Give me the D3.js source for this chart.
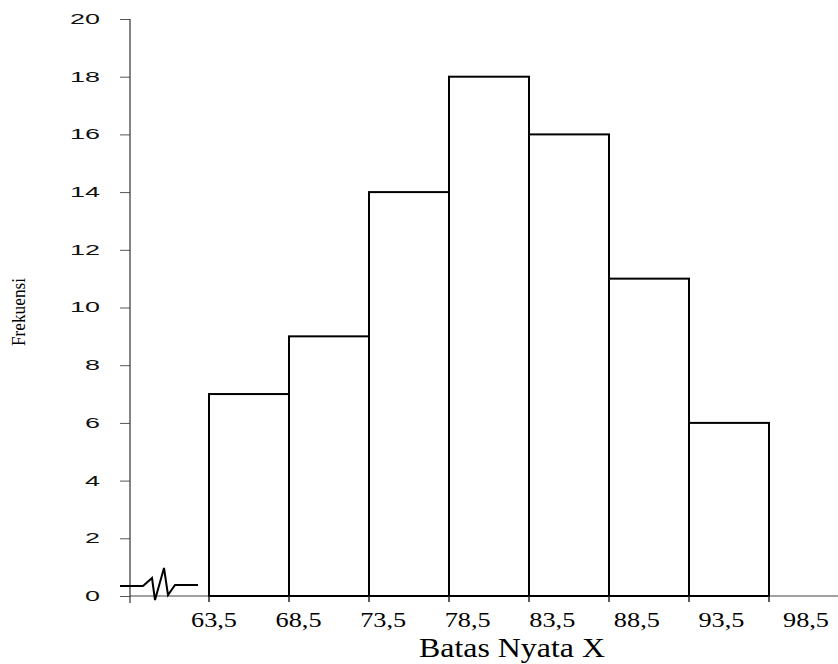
<!DOCTYPE html>
<html>
<head>
<meta charset="utf-8">
<script src="https://cdn.jsdelivr.net/npm/d3@7"></script>
<style>
  body { margin: 0; background: #fff; }
  svg { display: block; }
</style>
</head>
<body>
<svg id="chart" width="838" height="664"></svg>
<script>
// class boundaries and frequencies
const lowerBounds = [63.5, 68.5, 73.5, 78.5, 83.5, 88.5, 93.5];
const upperBounds = [68.5, 73.5, 78.5, 83.5, 88.5, 93.5, 98.5];
const frequencies = [7, 9, 14, 18, 16, 11, 6];
const xTickValues = [63.5, 68.5, 73.5, 78.5, 83.5, 88.5, 93.5, 98.5];
const xTickLabels = ["63,5", "68,5", "73,5", "78,5", "83,5", "88,5", "93,5", "98,5"];
const yTickValues = [0, 2, 4, 6, 8, 10, 12, 14, 16, 18, 20];

const svg = d3.select("#chart");
const axisX = 130;

let x = d3.scaleLinear().domain([63.5, 98.5]).range([209, 769]);
// labels in the original drift right of their ticks
let xLabel = d3.scaleLinear().domain([63.5, 98.5]).range([214, 806]);
let y = d3.scaleLinear().domain([0, 20]).range([596, 19]);

// baseline
svg.append("line")
    .attr("x1", axisX).attr("x2", 838)
    .attr("y1", y(0)).attr("y2", y(0))
    .attr("stroke", "#444").attr("stroke-width", 1.2);

// y axis
let yAxis = d3.axisLeft(y).tickValues(yTickValues).tickSize(10).tickPadding(20)
    .tickFormat(d3.format("d"));
let gy = svg.append("g").attr("transform", "translate(" + axisX + ",0)").call(yAxis);
gy.select(".domain").remove();
gy.selectAll(".tick line").attr("stroke", "#555");
gy.selectAll(".tick text")
    .attr("font-family", "Liberation Sans, Arial, sans-serif")
    .attr("font-size", 14)
    .attr("fill", "#111")
    .attr("textLength", (d) => d >= 10 ? 30 : 15)
    .attr("lengthAdjust", "spacingAndGlyphs");
svg.append("line")
    .attr("x1", axisX).attr("x2", axisX)
    .attr("y1", y(20)).attr("y2", y(0) + 7)
    .attr("stroke", "#333").attr("stroke-width", 1.2);

// bars
svg.selectAll("rect.bar")
    .data(frequencies)
    .enter()
    .append("rect")
    .attr("class", "bar")
    .attr("x", (d, i) => x(lowerBounds[i]))
    .attr("y", (d) => y(d))
    .attr("width", (d, i) => x(upperBounds[i]) - x(lowerBounds[i]))
    .attr("height", (d) => y(0) - y(d))
    .attr("fill", "none")
    .attr("stroke", "#000")
    .attr("stroke-width", 2);

// x ticks
svg.selectAll("line.xtick")
    .data(xTickValues)
    .enter()
    .append("line")
    .attr("class", "xtick")
    .attr("x1", (d) => x(d)).attr("x2", (d) => x(d))
    .attr("y1", y(0)).attr("y2", y(0) + 6)
    .attr("stroke", "#222").attr("stroke-width", 1.5);

svg.selectAll("text.xlabel")
    .data(xTickValues)
    .enter()
    .append("text")
    .attr("class", "xlabel")
    .attr("x", (d) => xLabel(d))
    .attr("y", 627)
    .attr("text-anchor", "middle")
    .attr("font-family", "Liberation Serif, Times New Roman, serif")
    .attr("font-size", 22)
    .attr("textLength", 46)
    .attr("lengthAdjust", "spacingAndGlyphs")
    .text((d, i) => xTickLabels[i]);

// axis break mark
let b = y(0);
let breakPts = [[-10, -10], [13, -10], [22, -18], [25, 4], [34, -28], [38, -1], [45, -11], [68, -11]];
svg.append("path")
    .attr("d", d3.line()(breakPts.map((p) => [axisX + p[0], b + p[1]])))
    .attr("fill", "none")
    .attr("stroke", "#000")
    .attr("stroke-width", 2);

// titles
svg.append("text")
    .attr("x", -312)
    .attr("y", 25)
    .attr("transform", "rotate(-90)")
    .attr("text-anchor", "middle")
    .attr("font-family", "Liberation Serif, Times New Roman, serif")
    .attr("font-size", 19)
    .attr("textLength", 68)
    .attr("lengthAdjust", "spacingAndGlyphs")
    .text("Frekuensi");

svg.append("text")
    .attr("x", 512)
    .attr("y", 657)
    .attr("text-anchor", "middle")
    .attr("font-family", "Liberation Serif, Times New Roman, serif")
    .attr("font-size", 28)
    .attr("textLength", 186)
    .attr("lengthAdjust", "spacingAndGlyphs")
    .text("Batas Nyata X");
</script>
</body>
</html>
